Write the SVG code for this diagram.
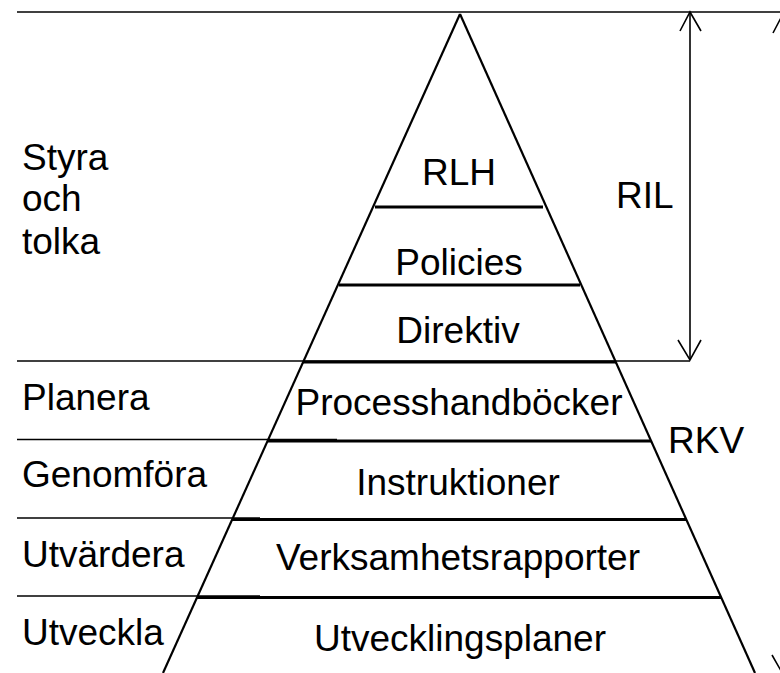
<svg xmlns="http://www.w3.org/2000/svg" width="780" height="673" viewBox="0 0 780 673">
  <defs>
    <style>
      .t { font-family: "Liberation Sans", Arial, sans-serif; font-size: 37px; fill: #000; }
      .c { text-anchor: middle; }
      .thin { stroke: #000; stroke-width: 1.6; fill: none; }
      .thick { stroke: #000; stroke-width: 3; fill: none; }
      .side { stroke: #000; stroke-width: 2.2; fill: none; }
      .arr { stroke: #000; stroke-width: 1.6; fill: none; }
    </style>
  </defs>
  <rect width="780" height="673" fill="#fff"/>

  <!-- level dividers on the left -->
  <g id="guides">
    <line class="thin" x1="17" y1="12" x2="780" y2="12"/>
    <line class="thin" x1="17" y1="361" x2="690" y2="361"/>
    <line class="thin" x1="17" y1="439.5" x2="337" y2="439.5"/>
    <line class="thin" x1="17" y1="518" x2="260" y2="518"/>
    <line class="thin" x1="17" y1="596" x2="260" y2="596"/>
  </g>

  <!-- pyramid outline and layers -->
  <g id="pyramid">
    <line class="side" x1="460" y1="14" x2="163" y2="673"/>
    <line class="side" x1="460" y1="14" x2="755" y2="673"/>
    <line class="thick" x1="375" y1="207" x2="543" y2="207"/>
    <line class="thick" x1="339" y1="285" x2="580" y2="285"/>
    <line class="thick" x1="303" y1="362" x2="616" y2="362"/>
    <line class="thick" x1="268" y1="441" x2="651" y2="441"/>
    <line class="thick" x1="232" y1="519.5" x2="686" y2="519.5"/>
    <line class="thick" x1="197" y1="597.5" x2="721" y2="597.5"/>
  </g>

  <!-- span arrows -->
  <g id="connectors">
    <g id="arrow-ril">
      <line class="arr" x1="690" y1="12" x2="690" y2="360"/>
      <polyline class="arr" points="680,31 690,12 701,31"/>
      <polyline class="arr" points="678,340 690,360 701,340"/>
    </g>
    <g id="arrow-rkv">
      <line class="arr" x1="784" y1="12" x2="784" y2="676"/>
      <polyline class="arr" points="773,33 784,12 795,33"/>
      <polyline class="arr" points="772,655 784,676 795,655"/>
    </g>
  </g>

  <g id="phase-styra"><text class="t" x="22" y="170">Styra</text><text class="t" x="22" y="211">och</text><text class="t" x="22" y="254">tolka</text></g>
  <g id="phase-planera"><text class="t" x="22" y="410">Planera</text></g>
  <g id="phase-genomfora"><text class="t" x="22" y="487">Genomföra</text></g>
  <g id="phase-utvardera"><text class="t" x="22" y="567">Utvärdera</text></g>
  <g id="phase-utveckla"><text class="t" x="22" y="645">Utveckla</text></g>

  <g id="layer-rlh"><text class="t c" x="459" y="185">RLH</text></g>
  <g id="layer-policies"><text class="t c" x="459" y="275">Policies</text></g>
  <g id="layer-direktiv"><text class="t c" x="458" y="343">Direktiv</text></g>
  <g id="layer-process"><text class="t c" x="459" y="415">Processhandböcker</text></g>
  <g id="layer-instruktioner"><text class="t c" x="458" y="495">Instruktioner</text></g>
  <g id="layer-verksamhet"><text class="t c" x="458" y="570">Verksamhetsrapporter</text></g>
  <g id="layer-utveckling"><text class="t c" x="460" y="651">Utvecklingsplaner</text></g>

  <g id="label-ril"><text class="t" x="616" y="208">RIL</text></g>
  <g id="label-rkv"><text class="t" x="668" y="453">RKV</text></g>
</svg>
